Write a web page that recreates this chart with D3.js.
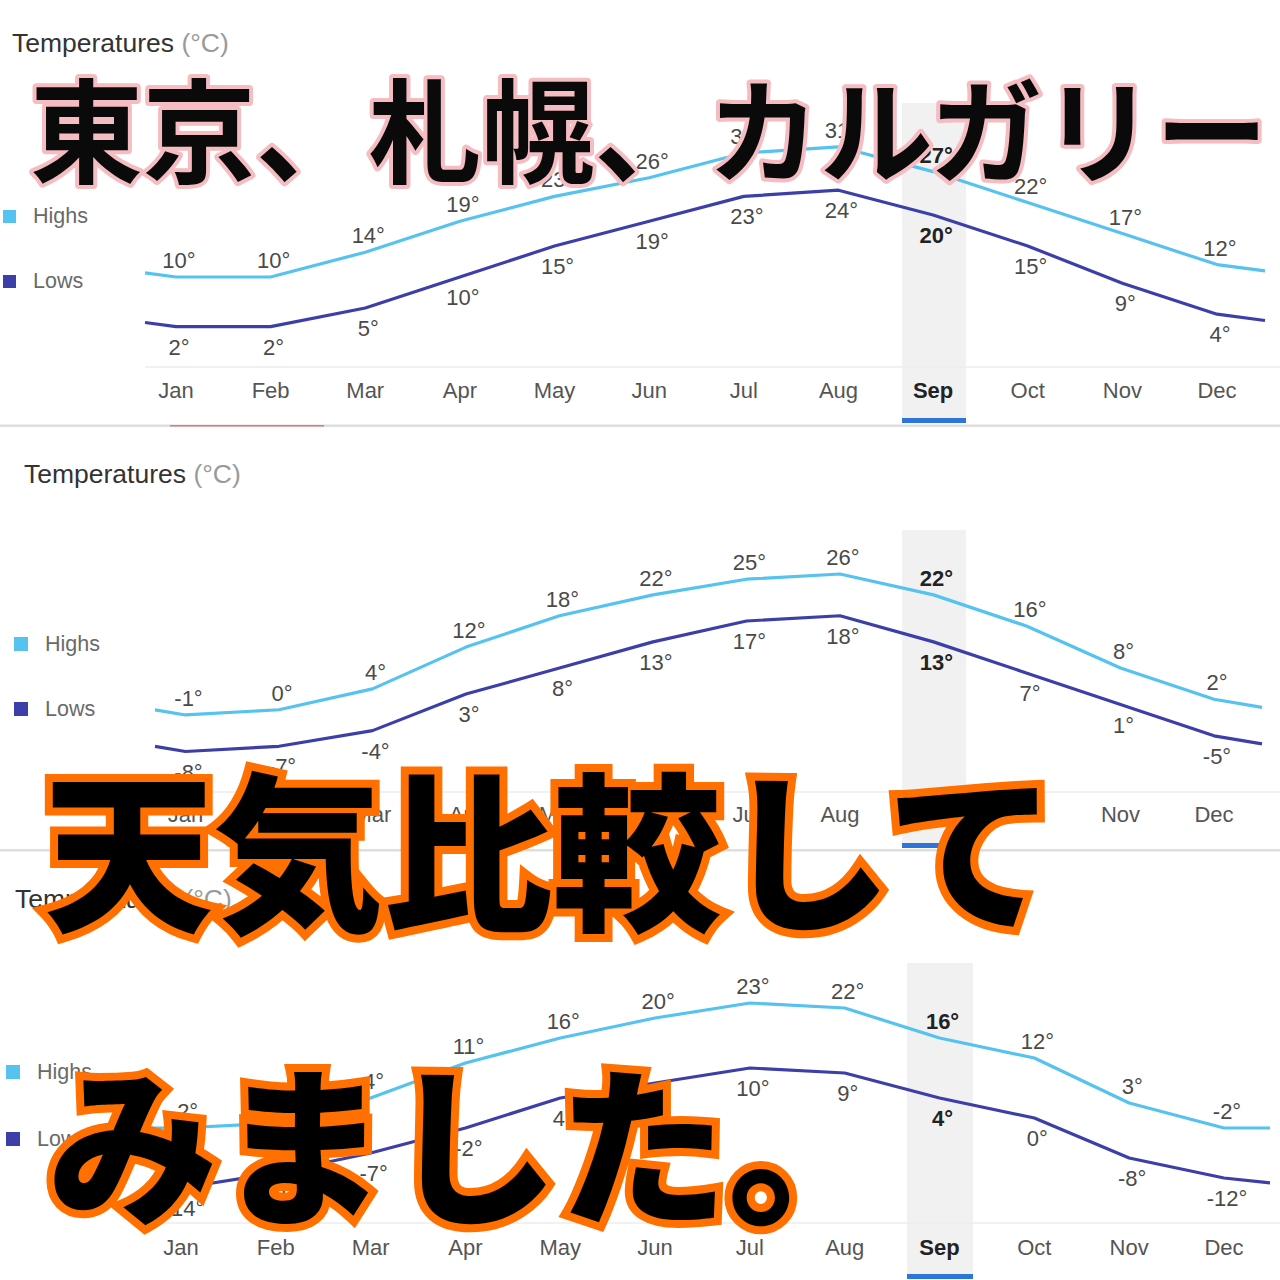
<!DOCTYPE html>
<html><head><meta charset="utf-8">
<script src="https://cdn.jsdelivr.net/npm/d3@7"></script>
<style>body{margin:0;background:#fff}svg{display:block}</style>
</head><body><svg id="c" width="1280" height="1280"></svg>
<script>
// ---- data ----
const months = ["Jan","Feb","Mar","Apr","May","Jun","Jul","Aug","Sep","Oct","Nov","Dec"];
const tokyoHighs   = [10, 10, 14, 19, 23, 26, 30, 31, 27, 22, 17, 12];
const tokyoLows    = [ 2,  2,  5, 10, 15, 19, 23, 24, 20, 15,  9,  4];
const sapporoHighs = [-1,  0,  4, 12, 18, 22, 25, 26, 22, 16,  8,  2];
const sapporoLows  = [-8, -7, -4,  3,  8, 13, 17, 18, 13,  7,  1, -5];
const calgaryHighs = [-2, -1,  4, 11, 16, 20, 23, 22, 16, 12,  3, -2];
const calgaryLows  = [-14,-11, -7, -2,  4,  7, 10,  9,  4,  0, -8,-12];
const seriesNames  = ["Highs", "Lows"];
const titleMain = "Temperatures", titleUnit = "(°C)";
const selectedMonth = "Sep";
const headline1 = "東京、札幌、カルガリー";
const headline2 = "天気比較して";
const headline3 = "みました。";

// ---- layout ----
const COL_HI = "#55c2f0", COL_LO = "#3d3fa8";
const FONT = "Arial, 'Liberation Sans', sans-serif";
const panels = [
  {highs: tokyoHighs, lows: tokyoLows, titleX: 12, titleY: 52, legX: 3, legSize: 13, legHiY: 210, legLoY: 275, legTextX: 33,
   xJan: 176, xDec: 1217, x0: 145, x1: 1265, yTop: 146.8, yBot: 326.6, axisY: 367, monthY: 398,
   bandX: 902, bandW: 64, bandTop: 103, barY: 418, sepY: 424.5, redLine: true},
  {highs: sapporoHighs, lows: sapporoLows, titleX: 24, titleY: 483, legX: 14, legSize: 14, legHiY: 637, legLoY: 702, legTextX: 45,
   xJan: 185.5, xDec: 1214, x0: 155, x1: 1262, yTop: 574, yBot: 751.5, axisY: 792, monthY: 822,
   bandX: 902, bandW: 64, bandTop: 530, barY: 843, sepY: 849},
  {highs: calgaryHighs, lows: calgaryLows, titleX: 15, titleY: 908, legX: 6, legSize: 14, legHiY: 1065, legLoY: 1132, legTextX: 37,
   xJan: 181, xDec: 1224, x0: 148, x1: 1270, yTop: 1003, yBot: 1188, axisY: 1223, monthY: 1255,
   bandX: 907, bandW: 66, bandTop: 963, barY: 1274, sepY: null}
];

const svg = d3.select("#c");
svg.append("rect").attr("width",1280).attr("height",1280).attr("fill","#fff");

panels.forEach(p => {
  const g = svg.append("g");
  const x = d3.scalePoint().domain(months).range([p.xJan, p.xDec]);
  const y = d3.scaleLinear().domain([d3.min(p.lows), d3.max(p.highs)]).range([p.yBot, p.yTop]);
  const step = x.step();

  // selected month band
  g.append("rect").attr("x", p.bandX).attr("y", p.bandTop).attr("width", p.bandW)
    .attr("height", p.barY - p.bandTop).attr("fill", "#f1f1f2");
  g.append("rect").attr("x", p.bandX).attr("y", p.barY).attr("width", p.bandW)
    .attr("height", 5).attr("fill", "#2f74d8");
  // axis line
  g.append("line").attr("x1", p.x0).attr("x2", 1280).attr("y1", p.axisY).attr("y2", p.axisY)
    .attr("stroke", "#ececec").attr("stroke-width", 1.5);
  if (p.sepY !== null) {
    g.append("rect").attr("x", 0).attr("y", p.sepY).attr("width", 1280).attr("height", 2.5).attr("fill", "#dedede");
  }
  if (p.redLine) {
    g.append("rect").attr("x", 170).attr("y", p.sepY + 0.5).attr("width", 154).attr("height", 1.5).attr("fill", "#e07a7a");
  }

  // title
  const t = g.append("text").attr("x", p.titleX).attr("y", p.titleY)
    .attr("font-family", FONT).attr("font-size", 26.5).attr("fill", "#333");
  t.append("tspan").text(titleMain);
  t.append("tspan").attr("fill", "#9a9a9a").text(" " + titleUnit);

  // legend
  [[p.legHiY, COL_HI, seriesNames[0]], [p.legLoY, COL_LO, seriesNames[1]]].forEach(([ly, c, name]) => {
    g.append("rect").attr("x", p.legX).attr("y", ly).attr("width", p.legSize).attr("height", p.legSize).attr("fill", c);
    g.append("text").attr("x", p.legTextX).attr("y", ly + p.legSize).attr("font-family", FONT)
      .attr("font-size", 21.5).attr("fill", "#6a6a6a").text(name);
  });

  // lines (extended to panel edges, wrapping toward the neighbouring month)
  const buildPts = vals => {
    const n = vals.length;
    const tl = (p.xJan - p.x0) / step, tr = (p.x1 - p.xDec) / step;
    const pts = [[p.x0, vals[0] + tl * (vals[n-1] - vals[0])]];
    vals.forEach((v, i) => pts.push([x(months[i]), v]));
    pts.push([p.x1, vals[n-1] + tr * (vals[0] - vals[n-1])]);
    return pts;
  };
  const line = d3.line().x(d => d[0]).y(d => y(d[1]));
  g.append("path").attr("d", line(buildPts(p.lows))).attr("fill", "none").attr("stroke", COL_LO)
    .attr("stroke-width", 3.2).attr("stroke-linejoin", "round");
  g.append("path").attr("d", line(buildPts(p.highs))).attr("fill", "none").attr("stroke", COL_HI)
    .attr("stroke-width", 3.2).attr("stroke-linejoin", "round");

  // value labels
  const lab = (vals, dy) => g.selectAll(null).data(vals).join("text")
    .attr("x", (d, i) => x(months[i]) + 3).attr("y", d => y(d) + dy)
    .attr("text-anchor", "middle").attr("font-family", FONT).attr("font-size", 22)
    .attr("fill", (d, i) => months[i] === selectedMonth ? "#222" : "#4a4a4a")
    .attr("font-weight", (d, i) => months[i] === selectedMonth ? "bold" : "normal")
    .text(d => d + "°");
  lab(p.highs, -9);
  lab(p.lows, 28);

  // month axis labels
  g.selectAll(null).data(months).join("text")
    .attr("x", d => x(d)).attr("y", p.monthY).attr("text-anchor", "middle")
    .attr("font-family", FONT).attr("font-size", 22)
    .attr("fill", d => d === selectedMonth ? "#222" : "#555")
    .attr("font-weight", d => d === selectedMonth ? "bold" : "normal")
    .text(d => d);
});

// ---- overlay headline ----
const ov = svg.append("g");
ov.append("text").attr("x", 30).attr("y", 174).attr("textLength", 1238).attr("lengthAdjust", "spacingAndGlyphs")
  .attr("font-family", "'Noto Sans CJK JP', sans-serif").attr("font-weight", 700).attr("font-size", 113)
  .attr("fill", "#0a0a0a").attr("stroke", "#f5bcc2").attr("stroke-width", 8).attr("stroke-linejoin", "round")
  .attr("paint-order", "stroke").text(headline1);
ov.append("text").attr("x", 44).attr("y", 918).attr("textLength", 1012).attr("lengthAdjust", "spacingAndGlyphs")
  .attr("font-family", "'Noto Sans CJK JP', sans-serif").attr("font-weight", 900).attr("font-size", 170)
  .attr("fill", "#000").attr("stroke", "#ff7000").attr("stroke-width", 16).attr("stroke-linejoin", "miter")
  .attr("paint-order", "stroke").text(headline2);
ov.append("text").attr("x", 48).attr("y", 1212)
  .attr("font-family", "'Noto Sans CJK JP', sans-serif").attr("font-weight", 900).attr("font-size", 170)
  .attr("fill", "#000").attr("stroke", "#ff7000").attr("stroke-width", 16).attr("stroke-linejoin", "miter")
  .attr("paint-order", "stroke").text(headline3);
</script></body></html>
